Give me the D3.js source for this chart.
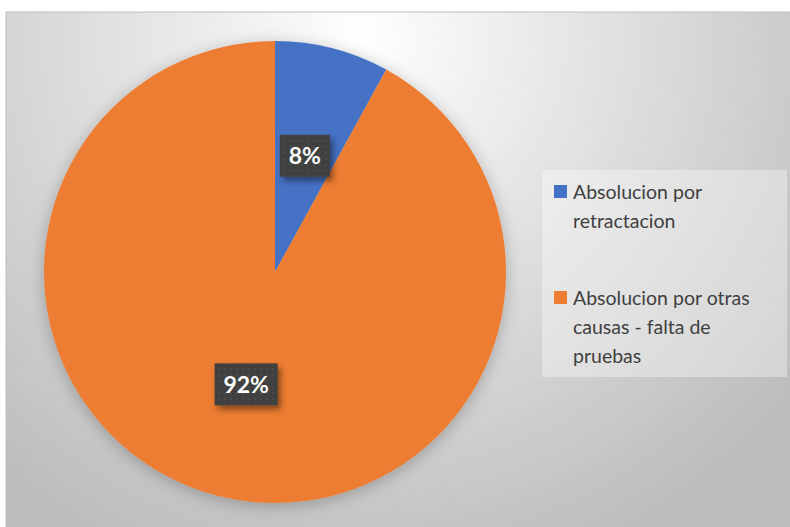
<!DOCTYPE html>
<html><head><meta charset="utf-8">
<script src="https://cdn.jsdelivr.net/npm/d3@7"></script>
<style>html,body{margin:0;padding:0;background:#fff;}svg{display:block;}</style>
</head><body>
<svg id="c" width="790" height="527"></svg>
<script>
const categories = ["Absolucion por retractacion", "Absolucion por otras causas - falta de pruebas"];
const values = [8, 92];
const labels = ["8%", "92%"];
const legendLines = [["Absolucion por", "retractacion"], ["Absolucion por otras", "causas - falta de", "pruebas"]];
const colors = ["#4472C4", "#ED7D31"];

const svg = d3.select("#c");
const defs = svg.append("defs");
const rg = defs.append("radialGradient").attr("id","bg").attr("gradientUnits","userSpaceOnUse")
  .attr("cx",360).attr("cy",40).attr("r",560);
rg.append("stop").attr("offset","0").attr("stop-color","#ffffff");
rg.append("stop").attr("offset","0.55").attr("stop-color","#dadada");
rg.append("stop").attr("offset","1").attr("stop-color","#bcbcbc");

const sh = defs.append("filter").attr("id","pieShadow").attr("x","-20%").attr("y","-20%").attr("width","140%").attr("height","140%");
sh.append("feDropShadow").attr("dx",0).attr("dy",3).attr("stdDeviation",8).attr("flood-color","#000").attr("flood-opacity",0.25);
const lsh = defs.append("filter").attr("id","lblShadow").attr("x","-30%").attr("y","-30%").attr("width","160%").attr("height","170%");
lsh.append("feDropShadow").attr("dx",3).attr("dy",4).attr("stdDeviation",3).attr("flood-color","#000").attr("flood-opacity",0.45);
const pat = defs.append("pattern").attr("id","dots").attr("patternUnits","userSpaceOnUse").attr("width",6).attr("height",6);
pat.append("rect").attr("width",6).attr("height",6).attr("fill","#3f3f3f");
pat.append("rect").attr("x",2).attr("y",2).attr("width",2).attr("height",2).attr("fill","#4d4d4d");

svg.append("rect").attr("x",6).attr("y",12).attr("width",790).attr("height",520)
  .attr("fill","url(#bg)").attr("stroke","#bdbdbd").attr("stroke-width",1);

const cx = 275, cy = 272, R = 231;
const pie = d3.pie().sort(null).value(d => d);
const arcs = pie(values);
const arc = d3.arc().innerRadius(0).outerRadius(R);
const g = svg.append("g").attr("transform",`translate(${cx},${cy})`);
g.append("g").attr("filter","url(#pieShadow)").selectAll("path").data(arcs).join("path")
  .attr("d",arc).attr("fill",(d,i)=>colors[i]);

// data labels
labels.forEach((t,i)=>{
  const a = arcs[i];
  const ang = (a.startAngle + a.endAngle)/2;
  const rr = i===0 ? 120 : 116;
  const x = Math.sin(ang)*rr, y = -Math.cos(ang)*rr;
  const lg = g.append("g").attr("transform",`translate(${x},${y})`);
  const w = i===0 ? 50 : 63, h = 42;
  lg.append("rect").attr("x",-w/2).attr("y",-h/2).attr("width",w).attr("height",h)
    .attr("fill","url(#dots)").attr("filter","url(#lblShadow)");
  lg.append("text").attr("text-anchor","middle").attr("dy","0.36em")
    .attr("font-family","Lato, 'Open Sans', sans-serif").attr("font-weight","bold").attr("font-size",23)
    .attr("fill","#fff").text(t);
});

// legend
const lgx = 542, lgy = 170;
svg.append("rect").attr("x",lgx).attr("y",lgy).attr("width",245).attr("height",207)
  .attr("fill","#ffffff").attr("fill-opacity",0.35);
const legStart = [199, 305];
categories.forEach((c,i)=>{
  svg.append("rect").attr("x",554).attr("y",legStart[i]-14).attr("width",13).attr("height",13).attr("fill",colors[i]);
  const tx = svg.append("text").attr("font-family","Lato, 'Open Sans', sans-serif").attr("font-size",19.5)
    .attr("fill","#404040");
  legendLines[i].forEach((ln,j)=>{
    tx.append("tspan").attr("x",573).attr("y",legStart[i]+j*29).text(ln);
  });
});
</script>
</body></html>
